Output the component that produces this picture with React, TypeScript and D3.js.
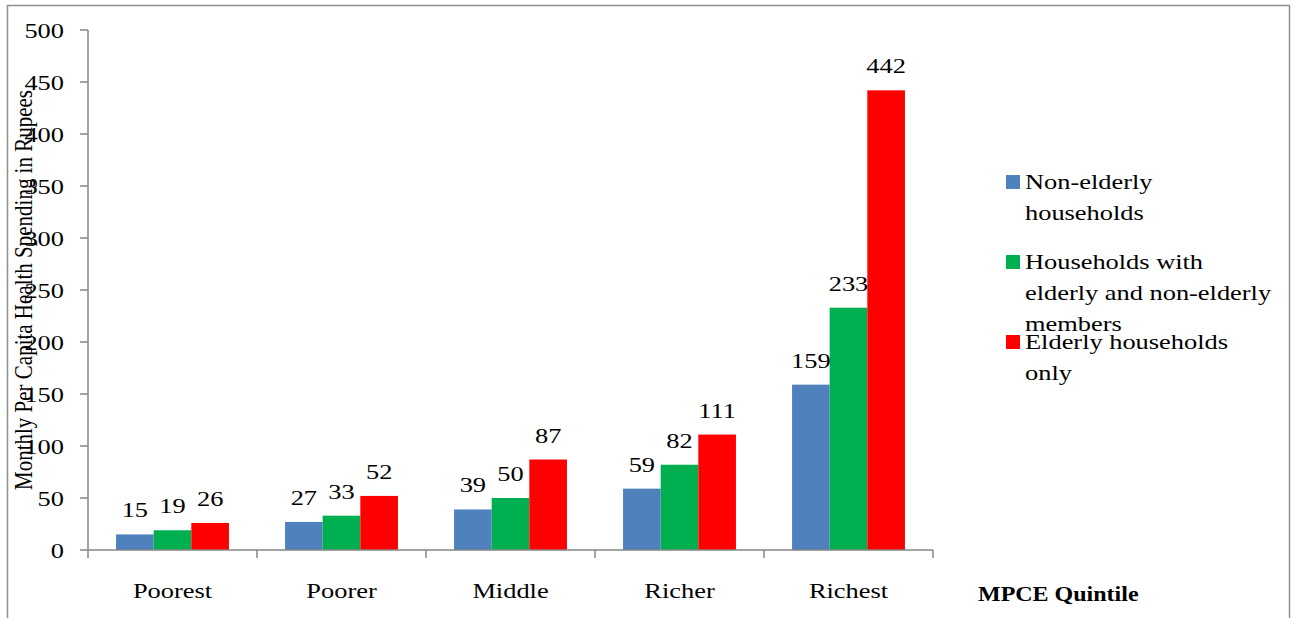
import React from "react";
import * as d3 from "d3";

const categories = ["Poorest", "Poorer", "Middle", "Richer", "Richest"];
const seriesNames = [
  "Non-elderly households",
  "Households with elderly and non-elderly members",
  "Elderly households only",
];
const nonElderly = [15, 27, 39, 59, 159];
const mixed = [19, 33, 50, 82, 233];
const elderlyOnly = [26, 52, 87, 111, 442];
const seriesValues = [nonElderly, mixed, elderlyOnly];
const seriesColors = ["#4F81BD", "#00B050", "#FF0000"];
const legendLines = [
  ["Non-elderly", "households"],
  ["Households with", "elderly and non-elderly", "members"],
  ["Elderly households", "only"],
];
const yTicks = [0, 50, 100, 150, 200, 250, 300, 350, 400, 450, 500];
const yTitle = "Monthly Per Capita Health Spending in Rupees";
const xTitle = "MPCE Quintile";

const W = 1292;
const H = 618;
const SX = 1.2; // horizontal stretch of the reference text
const FONT = "'Liberation Serif', 'Times New Roman', serif";
const AXIS = "#868686";

function T(props: {
  x: number;
  y: number;
  anchor?: string;
  size?: number;
  bold?: boolean;
  children: React.ReactNode;
}) {
  const { x, y, anchor = "start", size = 22, bold = false, children } = props;
  return (
    <text
      transform={`translate(${x},${y}) scale(${SX},1)`}
      textAnchor={anchor}
      fontSize={size}
      fontWeight={bold ? "bold" : "normal"}
      fontFamily={FONT}
      fill="#000"
    >
      {children}
    </text>
  );
}

export default function App() {
  const x0 = 88;
  const x1 = 933;
  const yTop = 30;
  const yBase = 550;

  const y = d3.scaleLinear().domain([0, 500]).range([yBase, yTop]);
  const xBand = d3.scaleBand<string>().domain(categories).range([x0, x1]).paddingInner(0).paddingOuter(0);
  const bw = xBand.bandwidth();
  const groupPad = 0.166;
  const xInner = d3
    .scaleBand<number>()
    .domain([0, 1, 2])
    .range([bw * groupPad, bw * (1 - groupPad)])
    .padding(0);

  const boundaries = categories.map((c) => xBand(c) as number).concat([x1]);

  return (
    <svg
      width={W}
      height={H}
      style={{ position: "absolute", left: 0, top: 0, background: "#fff" }}
    >
      <rect x={0} y={0} width={W} height={H} fill="#fff" />
      {/* outer frame */}
      <path
        d={`M7.5,${H + 5} V5.5 H1289.5 V${H + 5}`}
        fill="none"
        stroke="#8f8f8f"
        strokeWidth={1.5}
      />

      {/* bars */}
      {seriesValues.map((vals, si) =>
        vals.map((v, ci) => (
          <rect
            key={`b${si}-${ci}`}
            x={(xBand(categories[ci]) as number) + (xInner(si) as number)}
            y={y(v)}
            width={xInner.bandwidth()}
            height={yBase - y(v)}
            fill={seriesColors[si]}
          />
        ))
      )}

      {/* data labels */}
      {seriesValues.map((vals, si) =>
        vals.map((v, ci) => (
          <T
            key={`l${si}-${ci}`}
            x={(xBand(categories[ci]) as number) + (xInner(si) as number) + xInner.bandwidth() / 2}
            y={y(v) - 17}
            anchor="middle"
          >
            {v}
          </T>
        ))
      )}

      {/* y axis */}
      <line x1={x0} x2={x0} y1={yTop} y2={yBase} stroke={AXIS} strokeWidth={1.5} />
      {yTicks.map((t) => (
        <g key={`yt${t}`}>
          <line x1={x0 - 8} x2={x0} y1={y(t)} y2={y(t)} stroke={AXIS} strokeWidth={1.5} />
          <T x={64} y={y(t) + 7.5} anchor="end">
            {t}
          </T>
        </g>
      ))}

      {/* x axis */}
      <line x1={x0} x2={x1} y1={yBase} y2={yBase} stroke={AXIS} strokeWidth={1.5} />
      {boundaries.map((b, i) => (
        <line key={`xt${i}`} x1={b} x2={b} y1={yBase} y2={yBase + 8} stroke={AXIS} strokeWidth={1.5} />
      ))}
      {categories.map((c) => (
        <T key={`c${c}`} x={(xBand(c) as number) + bw / 2} y={598} anchor="middle">
          {c}
        </T>
      ))}

      {/* axis titles */}
      <text
        transform={`translate(32,290) rotate(-90) scale(1,${SX})`}
        textAnchor="middle"
        fontSize={21}
        fontFamily={FONT}
        fill="#000"
      >
        {yTitle}
      </text>
      <T x={978} y={601} size={20} bold>
        {xTitle}
      </T>

      {/* legend */}
      {seriesNames.map((name, i) => {
        const top = 175 + i * 80;
        return (
          <g key={`lg${i}`}>
            <rect x={1006} y={top} width={14} height={14} fill={seriesColors[i]} />
            {legendLines[i].map((line, j) => (
              <T key={`lgt${i}-${j}`} x={1025} y={top + 14 + j * 31}>
                {line}
              </T>
            ))}
          </g>
        );
      })}
    </svg>
  );
}
